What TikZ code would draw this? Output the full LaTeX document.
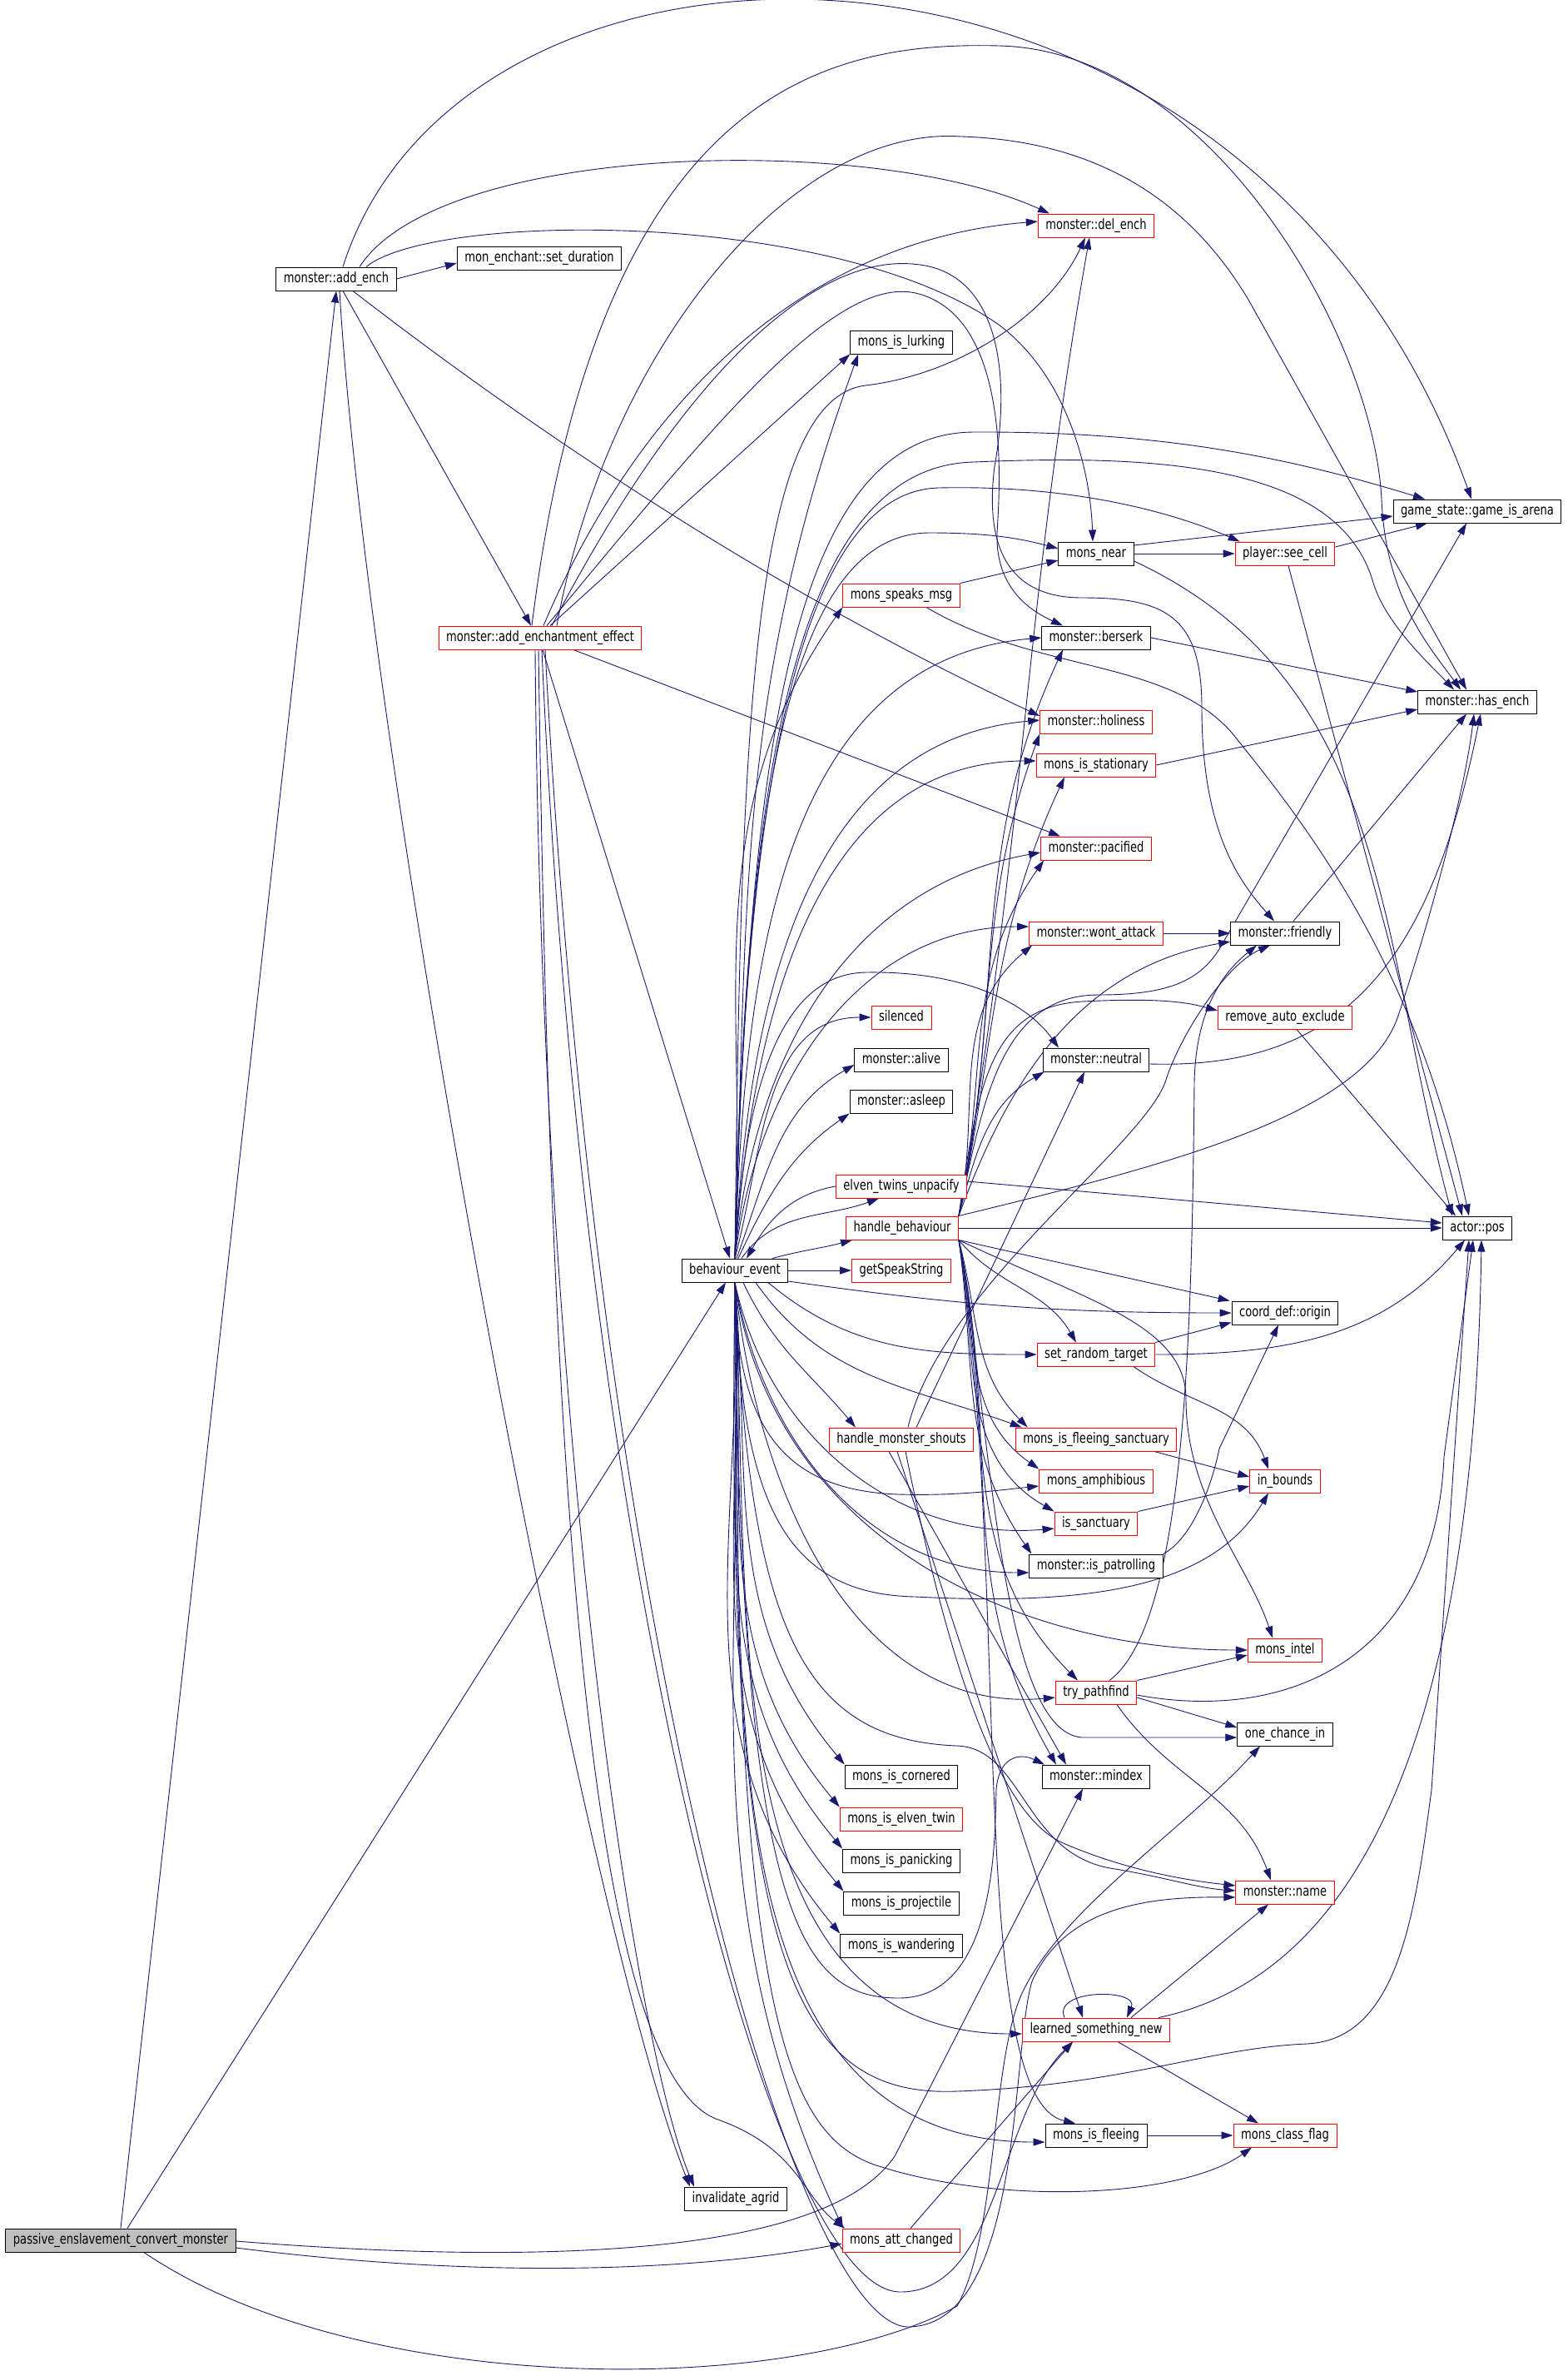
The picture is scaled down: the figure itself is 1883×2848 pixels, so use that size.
\documentclass[tikz,border=0pt]{standalone}
\usepackage{fontspec}
\newfontfamily\dotfont{DejaVu Sans}[FakeStretch=0.77]
\usetikzlibrary{arrows.meta,backgrounds}
\definecolor{edgeblue}{HTML}{191970}
\definecolor{rootgray}{HTML}{BFBFBF}
\tikzset{
  fn/.style={draw=black,line width=1pt,fill=white,minimum height=28pt,inner xsep=9pt,inner ysep=0pt,text height=12.5pt,text depth=3.5pt,font=\dotfont\fontsize{17pt}{20pt}\selectfont},
  fnred/.style={fn,draw=red},
  fnroot/.style={fn,fill=rootgray},
  e/.style={draw=edgeblue,line width=0.9pt,-{Triangle[length=14pt,width=9pt]}},
}
\begin{document}
\begin{tikzpicture}[x=1pt,y=1pt]
\useasboundingbox (0,0) rectangle (1883,-2848);
\node[fnroot] (passive) at (145,-2691) {passive\_enslavement\_convert\_monster};
\node[fn] (addench) at (404,-335) {monster::add\_ench};
\node[fn] (setdur) at (648,-310) {mon\_enchant::set\_duration};
\node[fnred] (addeff) at (649,-766) {monster::add\_enchantment\_effect};
\node[fn] (bev) at (883,-1526) {behaviour\_event};
\node[fn] (agrid) at (884,-2641) {invalidate\_agrid};
\node[fn] (lurk) at (1083,-411) {mons\_is\_lurking};
\node[fnred] (speaks) at (1083,-715) {mons\_speaks\_msg};
\node[fnred] (silenced) at (1083,-1222) {silenced};
\node[fn] (alive) at (1083,-1273) {monster::alive};
\node[fn] (asleep) at (1083,-1323) {monster::asleep};
\node[fnred] (elven) at (1083,-1425) {elven\_twins\_unpacify};
\node[fnred] (hbeh) at (1084,-1475) {handle\_behaviour};
\node[fnred] (getspeak) at (1083,-1526) {getSpeakString};
\node[fnred] (shouts) at (1083,-1729) {handle\_monster\_shouts};
\node[fn] (cornered) at (1083,-2134) {mons\_is\_cornered};
\node[fnred] (eltwin) at (1083,-2185) {mons\_is\_elven\_twin};
\node[fn] (panick) at (1083,-2235) {mons\_is\_panicking};
\node[fn] (project) at (1083,-2286) {mons\_is\_projectile};
\node[fn] (wander) at (1083,-2337) {mons\_is\_wandering};
\node[fnred] (attch) at (1083,-2691) {mons\_att\_changed};
\node[fnred] (delench) at (1317,-271) {monster::del\_ench};
\node[fn] (near) at (1317,-665) {mons\_near};
\node[fn] (berserk) at (1317,-766) {monster::berserk};
\node[fnred] (holy) at (1317,-867) {monster::holiness};
\node[fnred] (station) at (1317,-919) {mons\_is\_stationary};
\node[fnred] (pacif) at (1317,-1019) {monster::pacified};
\node[fnred] (wont) at (1317,-1121) {monster::wont\_attack};
\node[fn] (neutral) at (1317,-1273) {monster::neutral};
\node[fnred] (randtgt) at (1317,-1627) {set\_random\_target};
\node[fnred] (fleesanc) at (1317,-1729) {mons\_is\_fleeing\_sanctuary};
\node[fnred] (amphib) at (1317,-1779) {mons\_amphibious};
\node[fnred] (sanct) at (1317,-1830) {is\_sanctuary};
\node[fn] (patrol) at (1317,-1881) {monster::is\_patrolling};
\node[fnred] (pathf) at (1317,-2033) {try\_pathfind};
\node[fn] (mindex) at (1317,-2134) {monster::mindex};
\node[fnred] (learned) at (1317,-2438) {learned\_something\_new};
\node[fn] (fleeing) at (1317,-2565) {mons\_is\_fleeing};
\node[fnred] (seecell) at (1544,-665) {player::see\_cell};
\node[fn] (friendly) at (1544,-1121) {monster::friendly};
\node[fnred] (autoexcl) at (1544,-1222) {remove\_auto\_exclude};
\node[fn] (origin) at (1544,-1577) {coord\_def::origin};
\node[fnred] (inbounds) at (1544,-1779) {in\_bounds};
\node[fnred] (intel) at (1544,-1982) {mons\_intel};
\node[fn] (chance) at (1544,-2083) {one\_chance\_in};
\node[fnred] (mname) at (1544,-2273) {monster::name};
\node[fnred] (classflag) at (1544,-2565) {mons\_class\_flag};
\node[fn] (arena) at (1775,-614) {game\_state::game\_is\_arena};
\node[fn] (hasench) at (1775,-843) {monster::has\_ench};
\node[fn] (apos) at (1775,-1475) {actor::pos};
\begin{scope}[on background layer]
\fill[white] (0,0) rectangle (1883,-2848);
\draw[e] (passive.north) -- (addench.south);
\draw[e] ([xshift=8]passive.north) -- ([xshift=-11]bev.south);
\draw[e] ([yshift=-9]passive.east) .. controls (600,-2740) and (850,-2725) .. ([yshift=-4]attch.west);
\draw[e] ([yshift=-1]passive.east) .. controls (700,-2725) and (1000,-2700) .. (1075,-2590) -- ([xshift=-16]mindex.south);
\draw[e] ([xshift=28]passive.south) .. controls (430,-2880) and (950,-2880) .. (1150,-2770) .. controls (1200,-2680) and (1190,-2470) .. (1230,-2390) .. controls (1280,-2290) and (1420,-2200) .. ([xshift=-30]chance.south);
\draw[e] (addench.east) -- ([yshift=-6]setdur.west);
\draw[e] ([xshift=28]addench.north) .. controls (530,-170) and (1050,-160) .. ([xshift=-56]delench.north);
\draw[e] ([xshift=8]addench.north) .. controls (560,145) and (1500,145) .. ([xshift=-7]arena.north);
\draw[e] ([xshift=36]addench.north) .. controls (520,-255) and (1000,-250) .. (1200,-390) .. controls (1280,-450) and (1310,-560) .. ([xshift=-4]near.north);
\draw[e] ([xshift=20]addench.south) .. controls (800,-640) and (1100,-790) .. ([yshift=7]holy.west);
\draw[e] ([xshift=8]addench.south) -- ([xshift=-11]addeff.north);
\draw[e] ([xshift=4]addench.south) .. controls (440,-900) and (700,-2300) .. ([xshift=-55]agrid.north);
\draw[e] ([xshift=3]addeff.south) -- ([xshift=-6]bev.north);
\draw[e] ([xshift=40]addeff.south) -- ([xshift=-43]pacif.north);
\draw[e] ([xshift=4]addeff.north) .. controls (760,-500) and (950,-290) .. ([yshift=5]delench.west);
\draw[e] ([xshift=12]addeff.north) -- (lurk.south west);
\draw[e] ([xshift=8]addeff.north) .. controls (850,-520) and (1000,-330) .. (1100,-352) .. controls (1220,-380) and (1200,-600) .. (1198,-640) .. controls (1196,-700) and (1230,-730) .. ([xshift=-40]berserk.north);
\draw[e] ([xshift=14]addeff.north) .. controls (820,-450) and (980,-300) .. (1105,-318) .. controls (1200,-330) and (1215,-450) .. (1195,-560) .. controls (1180,-680) and (1230,-718) .. (1300,-718) .. controls (1400,-718) and (1444,-740) .. (1444,-850) .. controls (1444,-1000) and (1490,-1060) .. ([xshift=-13]friendly.north);
\draw[e] ([xshift=20]addeff.north) .. controls (730,-420) and (950,-150) .. (1155,-164) .. controls (1340,-170) and (1440,-260) .. (1500,-360) -- ([xshift=-13]hasench.north);
\draw[e] ([xshift=-10]addeff.north) .. controls (720,-100) and (1000,-50) .. (1200,-55) .. controls (1450,-60) and (1650,-400) .. (1660,-600) .. controls (1665,-720) and (1720,-780) .. ([xshift=-20]hasench.north);
\draw[e] ([xshift=-6]addeff.south) .. controls (650,-1700) and (760,-2450) .. ([xshift=-50]agrid.north);
\draw[e] ([xshift=-2]addeff.south) .. controls (660,-1700) and (700,-2480) .. (860,-2545) .. controls (960,-2580) and (965,-2640) .. ([xshift=-68]attch.north);
\draw[e] ([xshift=2]addeff.south) .. controls (700,-1900) and (930,-2760) .. (1084,-2753) .. controls (1200,-2750) and (1200,-2540) .. ([xshift=-28]learned.south);
\draw[e] ([xshift=6]addeff.south) .. controls (720,-2000) and (960,-2800) .. (1093,-2795) .. controls (1230,-2790) and (1215,-2460) .. (1240,-2380) .. controls (1280,-2290) and (1380,-2278) .. ([yshift=-6]mname.west);
\draw[e] (bev.north) .. controls +(88:428) and +(250:428) .. ([xshift=10]lurk.south west);
\draw[e] (bev.north) .. controls (890,-900) and (900,-480) .. (1040,-463) .. controls (1150,-450) and (1260,-380) .. ([xshift=-13]delench.south);
\draw[e] (bev.north) .. controls (895,-1000) and (940,-640) .. (1117,-640) .. controls (1180,-640) and (1220,-645) .. ([yshift=6]near.west);
\draw[e] (bev.north) .. controls (895,-950) and (960,-590) .. (1128,-586) .. controls (1300,-582) and (1420,-620) .. ([xshift=6]seecell.north west);
\draw[e] (bev.north) .. controls (900,-900) and (950,-520) .. (1170,-519) .. controls (1400,-518) and (1550,-550) .. ([xshift=-63]arena.north);
\draw[e] (bev.north) .. controls (895,-950) and (950,-560) .. (1170,-555) .. controls (1400,-545) and (1610,-560) .. (1650,-700) .. controls (1665,-750) and (1720,-800) .. ([xshift=-28]hasench.north);
\draw[e] (bev.north) .. controls +(87:309) and +(235:309) .. (speaks.south west);
\draw[e] (bev.north) .. controls +(88:324) and +(185:324) .. (berserk.west);
\draw[e] (bev.north) .. controls +(87:290) and +(185:290) .. ([yshift=2]holy.west);
\draw[e] (bev.north) .. controls +(86:273) and +(180:273) .. ([yshift=5]station.west);
\draw[e] (bev.north) .. controls +(85:238) and +(190:238) .. ([yshift=-5]pacif.west);
\draw[e] (bev.north) .. controls +(83:208) and +(180:208) .. ([yshift=8]wont.west);
\draw[e] (bev.north) .. controls (895,-1300) and (940,-1170) .. (1040,-1168) .. controls (1150,-1166) and (1230,-1200) .. ([xshift=-45]neutral.north);
\draw[e] (bev.north) .. controls +(75:130) and +(180:130) .. (silenced.west);
\draw[e] ([xshift=2]bev.north) .. controls +(70:106) and +(210:106) .. ([yshift=-6]alive.west);
\draw[e] ([xshift=4]bev.north) .. controls +(65:86) and +(215:86) .. (asleep.south west);
\draw[e] ([xshift=8]bev.north) .. controls +(55:70) and +(200:70) .. ([xshift=-27]elven.south);
\draw[e] (elven.west) .. controls +(190:54) and +(60:54) .. ([xshift=14]bev.north);
\draw[e] ([xshift=45]bev.north) .. controls +(15:39) and +(195:39) .. ([xshift=8]hbeh.south west);
\draw[e] (bev.east) -- (getspeak.west);
\draw[e] ([yshift=-13]bev.east) .. controls +(-8:208) and +(180:208) .. (origin.west);
\draw[e] ([xshift=40]bev.south) .. controls +(-40:130) and +(180:130) .. (randtgt.west);
\draw[e] ([xshift=25]bev.south) .. controls +(-55:142) and +(160:142) .. ([xshift=8]fleesanc.north west);
\draw[e] ([xshift=10]bev.south) .. controls +(-65:86) and +(130:86) .. ([xshift=-55]shouts.north);
\draw[e] (bev.south) .. controls (885,-1700) and (930,-1790) .. (1080,-1795) .. controls (1150,-1797) and (1200,-1790) .. ([yshift=-6]amphib.west);
\draw[e] (bev.south) .. controls +(-78:189) and +(185:189) .. ([yshift=-6]sanct.west);
\draw[e] (bev.south) .. controls +(-80:194) and +(180:194) .. ([yshift=-8]patrol.west);
\draw[e] (bev.south) .. controls (890,-1800) and (940,-1915) .. (1100,-1918) .. controls (1330,-1930) and (1460,-1900) .. ([xshift=-20]inbounds.south);
\draw[e] (bev.south) .. controls +(-82:296) and +(180:296) .. (intel.west);
\draw[e] (bev.south) .. controls +(-84:246) and +(185:246) .. ([yshift=-6]pathf.west);
\draw[e] (bev.south) .. controls +(-85:232) and +(130:232) .. (cornered.north west);
\draw[e] (bev.south) .. controls +(-86:251) and +(130:251) .. (eltwin.north west);
\draw[e] (bev.south) .. controls +(-87:270) and +(130:270) .. (panick.north west);
\draw[e] (bev.south) .. controls +(-87:290) and +(130:290) .. (project.north west);
\draw[e] (bev.south) .. controls +(-88:309) and +(130:309) .. (wander.north west);
\draw[e] (bev.south) .. controls (890,-2300) and (960,-2400) .. (1080,-2400) .. controls (1200,-2400) and (1195,-2200) .. (1197,-2150) .. controls (1200,-2110) and (1225,-2105) .. ([xshift=-62]mindex.north);
\draw[e] (bev.south) .. controls (900,-1950) and (960,-2090) .. (1150,-2097) .. controls (1230,-2100) and (1230,-2230) .. (1340,-2245) .. controls (1400,-2255) and (1440,-2268) .. ([yshift=2]mname.west);
\draw[e] (bev.south) .. controls +(-87:377) and +(180:377) .. ([yshift=-5]learned.west);
\draw[e] (bev.south) .. controls +(-88:428) and +(180:428) .. ([yshift=-8]fleeing.west);
\draw[e] (bev.south) .. controls (880,-2400) and (940,-2560) .. (1050,-2600) .. controls (1200,-2650) and (1420,-2640) .. ([xshift=-40]classflag.south);
\draw[e] (bev.south) .. controls (870,-2350) and (950,-2520) .. (1150,-2512) .. controls (1350,-2505) and (1450,-2460) .. (1570,-2455) .. controls (1680,-2450) and (1700,-2300) .. (1720,-2150) -- ([xshift=-10]apos.south);
\draw[e] (bev.south) .. controls +(-88:446) and +(115:446) .. ([xshift=-70]attch.north);
\draw[e] (hbeh.north east) .. controls +(80:463) and +(-100:463) .. ([xshift=-8]delench.south);
\draw[e] (hbeh.north east) .. controls (1180,-1330) and (1200,-1195) .. (1320,-1195) .. controls (1400,-1195) and (1440,-1180) .. (1465,-1140) -- ([xshift=-13]arena.south);
\draw[e] (hbeh.north east) .. controls (1400,-1400) and (1640,-1340) .. (1680,-1220) .. controls (1720,-1100) and (1760,-950) .. ([xshift=-4]hasench.south);
\draw[e] (hbeh.north east) .. controls +(78:230) and +(250:230) .. (holy.south west);
\draw[e] (hbeh.north east) .. controls +(78:270) and +(245:270) .. ([xshift=-40]berserk.south);
\draw[e] (hbeh.north east) .. controls +(78:212) and +(245:212) .. ([xshift=-38]station.south);
\draw[e] (hbeh.north east) .. controls +(78:172) and +(235:172) .. ([xshift=4]pacif.south west);
\draw[e] (hbeh.north east) .. controls +(78:132) and +(220:132) .. ([xshift=4]wont.south west);
\draw[e] (hbeh.north east) .. controls +(70:181) and +(190:181) .. ([yshift=-10]friendly.west);
\draw[e] (hbeh.north east) .. controls (1175,-1300) and (1190,-1210) .. (1300,-1203) .. controls (1400,-1198) and (1430,-1205) .. ([yshift=8]autoexcl.west);
\draw[e] (hbeh.north east) .. controls +(75:79) and +(210:79) .. ([xshift=2]neutral.south west);
\draw[e] (hbeh.east) -- (apos.west);
\draw[e] (hbeh.south east) -- ([xshift=-2]origin.north west);
\draw[e] (hbeh.south east) .. controls +(-50:73) and +(120:73) .. ([xshift=-24]randtgt.north);
\draw[e] (hbeh.south east) .. controls +(-75:94) and +(135:94) .. ([xshift=15]fleesanc.north west);
\draw[e] (hbeh.south east) .. controls +(-78:114) and +(145:114) .. (amphib.north west);
\draw[e] (hbeh.south east) .. controls +(-80:135) and +(150:135) .. (sanct.north west);
\draw[e] (hbeh.south east) .. controls +(-82:151) and +(125:151) .. ([xshift=3]patrol.north west);
\draw[e] (hbeh.south east) .. controls +(-78:214) and +(135:214) .. ([xshift=-22]pathf.north);
\draw[e] (hbeh.south east) .. controls (1300,-1560) and (1425,-1590) .. (1425,-1680) .. controls (1425,-1800) and (1500,-1880) .. ([xshift=-15]intel.north);
\draw[e] (hbeh.south east) .. controls (1190,-1700) and (1200,-2080) .. (1300,-2087) -- ([yshift=-4]chance.west);
\draw[e] (hbeh.south east) .. controls +(-78:250) and +(120:250) .. ([xshift=-48]mindex.north);
\draw[e] (hbeh.south east) .. controls (1215,-1900) and (1160,-2520) .. ([xshift=-25]fleeing.north);
\draw[e] ([xshift=8]shouts.north) .. controls (1130,-1550) and (1370,-1380) .. (1400,-1300) .. controls (1415,-1250) and (1470,-1160) .. ([xshift=-18]friendly.south);
\draw[e] ([xshift=18]shouts.north) -- ([xshift=-14]neutral.south);
\draw[e] ([xshift=-5]shouts.south) -- ([xshift=-16]learned.north);
\draw[e] ([xshift=-15]shouts.south) -- ([xshift=-36]mindex.north);
\draw[e] ([xshift=5]shouts.south) .. controls (1130,-1950) and (1190,-2180) .. (1280,-2215) .. controls (1350,-2245) and (1420,-2258) .. ([yshift=8]mname.west);
\draw[e] (near.east) -- (seecell.west);
\draw[e] ([yshift=10]near.east) -- ([yshift=-6]arena.west);
\draw[e] ([yshift=-9]near.east) .. controls +(-25:341) and +(105:341) .. ([xshift=-30]apos.north);
\draw[e] ([yshift=8]seecell.east) -- ([xshift=-60]arena.south);
\draw[e] ([xshift=4]seecell.south) -- ([xshift=-18]apos.north);
\draw[e] (speaks.north east) -- ([yshift=-8]near.west);
\draw[e] ([xshift=30]speaks.south) .. controls (1250,-810) and (1400,-790) .. (1480,-880) .. controls (1560,-980) and (1700,-1150) .. ([xshift=-10]apos.north);
\draw[e] ([yshift=6]elven.east) -- ([yshift=6]apos.west);
\draw[e] (berserk.east) -- ([yshift=12]hasench.west);
\draw[e] (station.east) -- ([yshift=-9]hasench.west);
\draw[e] (wont.east) -- (friendly.west);
\draw[e] ([xshift=10]friendly.north) -- ([xshift=-13]hasench.south);
\draw[e] ([yshift=-5]neutral.east) .. controls (1620,-1285) and (1720,-1150) .. ([xshift=4]hasench.south);
\draw[e] ([xshift=14]autoexcl.south) -- ([xshift=-26]apos.north);
\draw[e] (randtgt.north east) -- ([yshift=3]origin.south west);
\draw[e] (randtgt.east) .. controls +(0:154) and +(-130:154) .. ([xshift=-15]apos.south);
\draw[e] ([xshift=45]randtgt.south) .. controls +(-35:80) and +(110:80) .. ([xshift=-20]inbounds.north);
\draw[e] ([xshift=70]fleesanc.south) -- ([yshift=5]inbounds.west);
\draw[e] (sanct.north east) -- ([yshift=-6]inbounds.west);
\draw[e] (patrol.north east) .. controls (1430,-1850) and (1455,-1790) .. (1465,-1740) -- ([xshift=-8]origin.south);
\draw[e] ([xshift=16]pathf.north) .. controls (1425,-1950) and (1432,-1600) .. (1435,-1300) .. controls (1437,-1200) and (1480,-1160) .. ([xshift=-34]friendly.south);
\draw[e] (pathf.north east) -- ([yshift=-6]intel.west);
\draw[e] ([yshift=-6]pathf.east) -- ([yshift=8]chance.west);
\draw[e] ([xshift=25]pathf.south) .. controls +(-55:110) and +(110:110) .. ([xshift=-17]mname.north);
\draw[e] ([yshift=-3]pathf.east) .. controls (1550,-2070) and (1725,-1990) .. (1735,-1750) -- ([xshift=-5]apos.south);
\draw[e] ([xshift=-38]learned.north) .. controls +(-15,35) and +(15,35) .. ([xshift=37]learned.north);
\draw[e] ([xshift=42]learned.north) -- ([xshift=-20]mname.south);
\draw[e] ([xshift=75]learned.north) .. controls (1600,-2380) and (1770,-2150) .. ([xshift=5]apos.south);
\draw[e] ([xshift=26]learned.south) -- ([xshift=-32]classflag.north);
\draw[e] (fleeing.east) -- (classflag.west);
\draw[e] ([xshift=11]attch.north) -- ([xshift=-28]learned.south);
\end{scope}
\end{tikzpicture}
\end{document}
